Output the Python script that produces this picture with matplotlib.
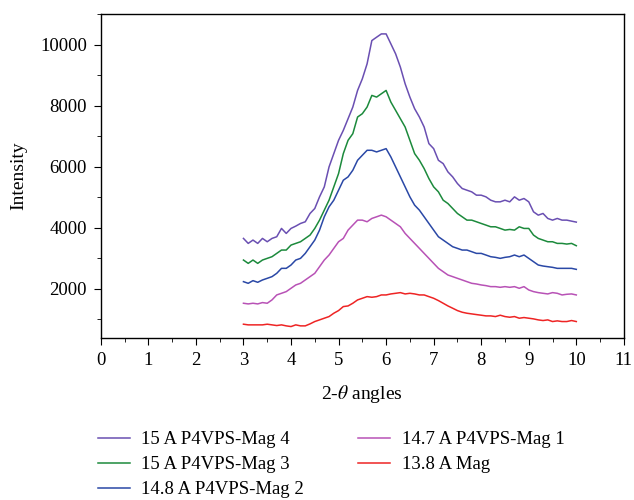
import matplotlib
matplotlib.use('Agg')
import matplotlib.pyplot as plt
import numpy as np
from matplotlib.ticker import MultipleLocator

plt.rcParams['font.family'] = ['Liberation Serif', 'DejaVu Serif']
plt.rcParams['mathtext.fontset'] = 'stix'

# 2-theta grid (degrees)
two_theta = np.round(np.arange(3.0, 10.01, 0.1), 1)

mag4 = [3651, 3488, 3597, 3488, 3651, 3542, 3651, 3706, 3978, 3815,
        3978, 4054, 4141, 4196, 4468, 4631, 5012, 5339, 5993, 6428,
        6864, 7190, 7571, 7953, 8497, 8878, 9368, 10130, 10240, 10348,
        10348, 10022, 9695, 9260, 8715, 8279, 7898, 7626, 7299, 6755,
        6591, 6210, 6101, 5829, 5666, 5448, 5285, 5230, 5176, 5067,
        5067, 5012, 4903, 4849, 4849, 4903, 4849, 5012, 4903, 4958,
        4849, 4522, 4413, 4468, 4305, 4250, 4305, 4250, 4250, 4217,
        4185]
mag3 = [2943, 2834, 2943, 2834, 2943, 2998, 3052, 3161, 3270, 3270,
        3433, 3488, 3542, 3651, 3760, 3978, 4250, 4577, 4903, 5339,
        5775, 6428, 6864, 7081, 7626, 7735, 7953, 8334, 8279, 8388,
        8497, 8116, 7844, 7571, 7299, 6864, 6428, 6210, 5938, 5611,
        5339, 5176, 4903, 4794, 4631, 4468, 4359, 4250, 4250, 4196,
        4141, 4087, 4032, 4032, 3978, 3923, 3945, 3923, 4032, 3978,
        3978, 3760, 3651, 3597, 3542, 3542, 3488, 3488, 3466, 3488,
        3412]
mag2 = [2235, 2181, 2268, 2214, 2290, 2344, 2399, 2508, 2671, 2671,
        2780, 2943, 2998, 3161, 3379, 3597, 3923, 4359, 4686, 4903,
        5230, 5557, 5666, 5884, 6210, 6374, 6537, 6537, 6483, 6537,
        6591, 6319, 5993, 5666, 5339, 5012, 4740, 4577, 4359, 4141,
        3923, 3706, 3597, 3488, 3379, 3325, 3270, 3270, 3216, 3161,
        3161, 3107, 3052, 3031, 2998, 3031, 3052, 3107, 3052, 3107,
        2998, 2889, 2780, 2747, 2725, 2704, 2671, 2671, 2671, 2671,
        2638]
mag1 = [1528, 1506, 1528, 1506, 1550, 1528, 1637, 1800, 1854, 1909,
        2018, 2127, 2181, 2290, 2399, 2508, 2725, 2943, 3107, 3325,
        3542, 3651, 3923, 4087, 4250, 4250, 4196, 4305, 4359, 4414,
        4359, 4250, 4141, 4032, 3815, 3651, 3488, 3325, 3161, 2998,
        2834, 2671, 2562, 2453, 2399, 2344, 2290, 2235, 2181, 2159,
        2127, 2105, 2072, 2072, 2050, 2072, 2050, 2072, 2018, 2072,
        1963, 1909, 1876, 1854, 1833, 1876, 1854, 1800, 1822, 1833,
        1800]
mag0 = [842, 820, 820, 820, 820, 842, 820, 798, 820, 787,
        765, 820, 787, 787, 852, 929, 983, 1038, 1092, 1201,
        1288, 1419, 1440, 1528, 1637, 1691, 1745, 1724, 1745, 1800,
        1800, 1833, 1854, 1876, 1833, 1854, 1833, 1800, 1800, 1745,
        1691, 1615, 1528, 1440, 1365, 1288, 1234, 1201, 1179, 1157,
        1136, 1114, 1114, 1092, 1136, 1092, 1070, 1092, 1038, 1060,
        1038, 1016, 983, 962, 983, 929, 951, 929, 929, 962,
        929]

series = [
    (mag4, '15 A P4VPS-Mag 4', '#6a4fb2'),
    (mag3, '15 A P4VPS-Mag 3', '#1c8a3c'),
    (mag2, '14.8 A P4VPS-Mag 2', '#2a48a6'),
    (mag1, '14.7 A P4VPS-Mag 1', '#b852b6'),
    (mag0, '13.8 A Mag', '#ee2424'),
]

fig = plt.figure(figsize=(6.34, 5.0), dpi=100)
ax = fig.add_axes([0.159, 0.324, 0.825, 0.648])

for vals, name, col in series:
    ax.plot(two_theta, vals, color=col, lw=1.1, label=name)

ax.set_xlim(0, 11)
ax.set_ylim(390, 11000)
ax.xaxis.set_major_locator(MultipleLocator(1))
ax.xaxis.set_minor_locator(MultipleLocator(0.5))
ax.set_yticks([2000, 4000, 6000, 8000, 10000])
ax.yaxis.set_minor_locator(MultipleLocator(1000))
ax.tick_params(which='both', direction='out', top=False, right=False, labelsize=13.5)
ax.tick_params(which='major', length=5, pad=5)
ax.tick_params(which='minor', length=3)
for s in ax.spines.values():
    s.set_linewidth(1.0)

ax.set_xlabel(r'2-$\theta$ angles', fontsize=14, labelpad=10)
ax.set_ylabel('Intensity', fontsize=14, labelpad=9)

fig.legend(loc='upper left', bbox_to_anchor=(0.143, 0.153), ncol=2, frameon=False,
           fontsize=13.5, handlelength=1.7, handletextpad=0.6, columnspacing=2.9,
           labelspacing=0.42, borderaxespad=0)

fig.savefig('out.png', dpi=100)
